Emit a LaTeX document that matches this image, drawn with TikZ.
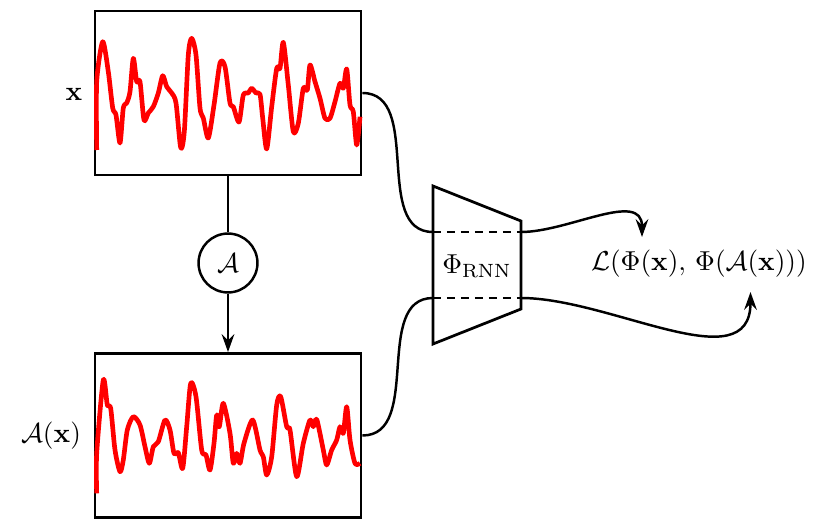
\documentclass[tikz,border=0pt]{standalone}
\usetikzlibrary{arrows.meta}
\begin{document}
\begin{tikzpicture}[x=0.365pt,y=-0.365pt,
  sigbox/.style={draw,line width=1pt,minimum width=97.1pt,minimum height=59.9pt,inner sep=0pt},
  conn/.style={line width=0.9pt},
  arr/.style={conn,-{Stealth[length=6.5pt,width=4.6pt,inset=2.2pt]}},
  wave/.style={red,line width=1.7pt,line join=round,smooth,tension=0.45},
  dashline/.style={line width=0.9pt,dash pattern=on 2.8pt off 2.3pt}]
\useasboundingbox (0,0) rectangle (832,530);
% boxes
\node[sigbox] (top) at (228,93) {};
\node[sigbox] (bot) at (228,435.5) {};
\node (xl) at (74,94) {$\mathbf{x}$};
\node (axl) at (51,436) {$\mathcal{A}(\mathbf{x})$};
% waveforms
\draw[wave] plot coordinates {(96.7,150) (96.7,81.7) (102.7,41.7) (108.3,71.7) (112.7,108) (116,115) (120,143) (123.3,108) (126.7,103) (130,91.7) (133.3,58.3) (136.7,81.7) (140,81.7) (144,120) (148.3,113) (153.3,106.7) (158.3,93) (162.7,75.7) (166.7,86.7) (171.7,93) (176,103) (180.7,147.7) (184.3,131.7) (188.3,55) (191.7,38.3) (196,55) (200,108) (203.3,118) (208.3,138) (214,105) (220,63) (225,66.7) (230,103) (233.3,106.7) (239,122) (243.3,95) (248.3,93) (251.7,88.3) (256,93) (260,94.3) (262.7,118) (266.7,149) (271.7,106.7) (276.7,68.3) (280,68.3) (283.3,42.3) (288.3,85) (293.3,131.7) (298.3,123.3) (303.3,88.3) (307.3,90) (310,65) (315,81.7) (320,98.3) (325,118.3) (330,118.3) (335,101.7) (340,83.3) (343.3,88.3) (346.7,69) (350,105) (353.3,111.7) (356.7,145) (360,116.7)};
\draw[wave] plot coordinates {(96.7,493.3) (96.7,453.3) (103.3,380) (107.3,405) (110.7,408.3) (115,450) (120,471.7) (123.3,460) (127.3,430) (133.3,416.7) (140,425) (145,446.7) (149.3,463.3) (153.3,446.7) (158.3,441.7) (165,420) (170,430) (174,453.3) (178.3,452.7) (182.7,468.3) (186.7,426.7) (190.7,383.3) (196,396.7) (201.7,450) (206,455) (210,470) (214,443.3) (216.7,415) (219.3,426.7) (223.3,403.3) (230,433.3) (233.3,463.3) (236.7,453.3) (240,463.3) (244,443.3) (252.7,420) (260,450) (263.3,456.7) (266.7,475) (271.7,456.7) (276.7,405) (280.7,396.7) (286.7,426.7) (290,430) (296.7,476.7) (303.3,443.3) (310,420) (313.3,426.7) (316.7,419.3) (323.3,450) (326.7,465) (331.7,450) (336.7,440) (340,426.7) (343.3,433.3) (346.7,406.7) (350,440) (355,463.3) (360,463.3)};
% augmentation
\node[draw,circle,line width=0.9pt,minimum size=21.5pt,inner sep=0pt] (aug) at (228,263) {$\mathcal{A}$};
\draw[conn] (top.south) -- (aug.north);
\draw[arr] (aug.south) -- (bot.north);
% encoder
\coordinate (tl) at (433,186);
\coordinate (tr) at (521,221);
\coordinate (br) at (521,309);
\coordinate (bl) at (433,344);
\coordinate (d1l) at (433,232);
\coordinate (d1r) at (521,232);
\coordinate (d2l) at (433,298);
\coordinate (d2r) at (521,298);
\draw[line width=1pt,line join=miter] (tl) -- (tr) -- (br) -- (bl) -- cycle;
\draw[dashline] (d1l) -- (d1r);
\draw[dashline] (d2l) -- (d2r);
\node (phi) at (477,266) {$\Phi_{\mathrm{RNN}}$};
\draw[conn] (top.east) to[out=0,in=180] (d1l);
\draw[conn] (bot.east) to[out=0,in=180] (d2l);
% loss
\node (loss) at (699,264) {$\mathcal{L}(\Phi(\mathbf{x}),\,\Phi(\mathcal{A}(\mathbf{x})))$};
\coordinate (l1) at (642,237);
\coordinate (l2) at (750.5,292);
\draw[arr] (d1r) to[out=0,in=90] (l1);
\draw[arr] (d2r) to[out=0,in=-90] (l2);
\end{tikzpicture}
\end{document}
